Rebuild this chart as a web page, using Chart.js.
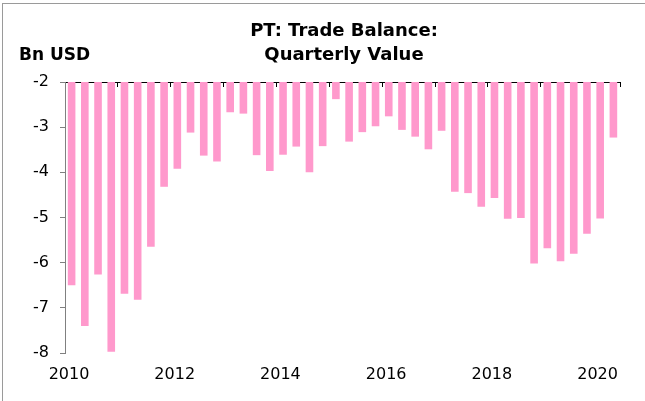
<!DOCTYPE html>
<html>
<head>
<meta charset="utf-8">
<script src="https://cdn.jsdelivr.net/npm/chart.js@4"></script>
<style>
  html, body { margin: 0; padding: 0; background: #fff; }
  #wrap { position: relative; width: 645px; height: 401px; overflow: hidden; }
  #frame { position: absolute; left: 2px; top: 3px; width: 800px; height: 600px;
           border-left: 1px solid #9a9a9a; border-top: 1px solid #9a9a9a; pointer-events: none; }
  canvas { position: absolute; left: 0; top: 0; }
</style>
</head>
<body>
<div id="wrap">
  <canvas id="c" width="645" height="401"></canvas>
  <div id="frame"></div>
</div>
<script>
// ---- data ----
const titleLines = ['PT: Trade Balance:', 'Quarterly Value'];
const unitLabel = 'Bn USD';
const quarters = [
  '2010Q1','2010Q2','2010Q3','2010Q4',
  '2011Q1','2011Q2','2011Q3','2011Q4',
  '2012Q1','2012Q2','2012Q3','2012Q4',
  '2013Q1','2013Q2','2013Q3','2013Q4',
  '2014Q1','2014Q2','2014Q3','2014Q4',
  '2015Q1','2015Q2','2015Q3','2015Q4',
  '2016Q1','2016Q2','2016Q3','2016Q4',
  '2017Q1','2017Q2','2017Q3','2017Q4',
  '2018Q1','2018Q2','2018Q3','2018Q4',
  '2019Q1','2019Q2','2019Q3','2019Q4',
  '2020Q1','2020Q2'
];
const tradeBalance = [
  -6.50, -7.40, -6.26, -7.97,
  -6.69, -6.82, -5.65, -4.32,
  -3.92, -3.12, -3.63, -3.76,
  -2.67, -2.70, -3.62, -3.97,
  -3.61, -3.43, -4.00, -3.42,
  -2.38, -3.32, -3.11, -2.98,
  -2.76, -3.06, -3.21, -3.49,
  -3.08, -4.43, -4.46, -4.76,
  -4.57, -5.03, -5.01, -6.02,
  -5.68, -5.97, -5.80, -5.36,
  -5.02, -3.23
];
const yTicks = [-2, -3, -4, -5, -6, -7, -8];
const yearLabels = [2010, 2012, 2014, 2016, 2018, 2020];

// ---- build ----
const xStart = 2010, xEnd = 2020.5;
const yTop = -2, yBottom = -8;
const points = quarters.map((q, i) => {
  const yr = parseInt(q.slice(0, 4), 10);
  const qn = parseInt(q.slice(5), 10);
  return { x: yr + (qn - 0.5) / 4, y: [yTop, tradeBalance[i]] };
});

const FONT = "'DejaVu Sans', sans-serif";

const headerPlugin = {
  id: 'header',
  afterDraw(chart) {
    const ctx = chart.ctx;
    ctx.save();
    ctx.fillStyle = '#000';
    ctx.font = "bold 18px " + FONT;
    ctx.textAlign = 'center';
    ctx.textBaseline = 'alphabetic';
    ctx.fillText(titleLines[0], 344, 36);
    ctx.fillText(titleLines[1], 344, 59.5);
    ctx.textAlign = 'left';
    ctx.font = "bold 17px " + FONT;
    ctx.fillText(unitLabel, 19, 59.5);
    ctx.restore();
  }
};

new Chart(document.getElementById('c'), {
  type: 'bar',
  data: {
    datasets: [{
      data: points,
      backgroundColor: '#FF99CC',
      borderWidth: 0,
      categoryPercentage: 0.8,
      barPercentage: 0.72,
      xAxisID: 'x',
      yAxisID: 'y'
    }]
  },
  plugins: [headerPlugin],
  options: {
    responsive: false,
    animation: false,
    events: [],
    layout: { padding: { top: 82, right: 25, left: 0, bottom: 0 } },
    plugins: { legend: { display: false }, title: { display: false }, tooltip: { enabled: false } },
    scales: {
      x: {
        type: 'linear',
        position: 'bottom',
        min: xStart, max: xEnd,
        offset: false,
        grid: { display: false, drawTicks: false, offset: false },
        border: { display: false },
        afterBuildTicks(scale) { scale.ticks = yearLabels.map(v => ({ value: v })); },
        afterFit(scale) { scale.height = 48; },
        ticks: {
          color: '#000',
          font: { family: FONT, size: 16 },
          padding: 12,
          labelOffset: 4,
          maxRotation: 0,
          autoSkip: false,
          callback: (v) => String(v)
        }
      },
      x2: {
        type: 'linear',
        axis: 'x',
        position: { y: yTop },
        min: xStart, max: xEnd,
        offset: false,
        grid: { display: true, drawOnChartArea: false, drawTicks: true, tickLength: 4, color: '#000', offset: false },
        border: { display: true, color: '#000', width: 1 },
        ticks: { display: false, stepSize: 1 }
      },
      y: {
        type: 'linear',
        position: 'left',
        min: yBottom, max: yTop,
        afterBuildTicks(scale) { scale.ticks = yTicks.map(v => ({ value: v })); },
        afterFit(scale) { scale.width = 65; },
        grid: { display: true, drawOnChartArea: false, drawTicks: true, tickLength: 5, color: '#808080' },
        border: { display: true, color: '#808080', width: 1 },
        ticks: {
          color: '#000',
          font: { family: FONT, size: 16 },
          padding: 11,
          callback: (v) => String(v)
        }
      }
    }
  }
});
</script>
</body>
</html>
